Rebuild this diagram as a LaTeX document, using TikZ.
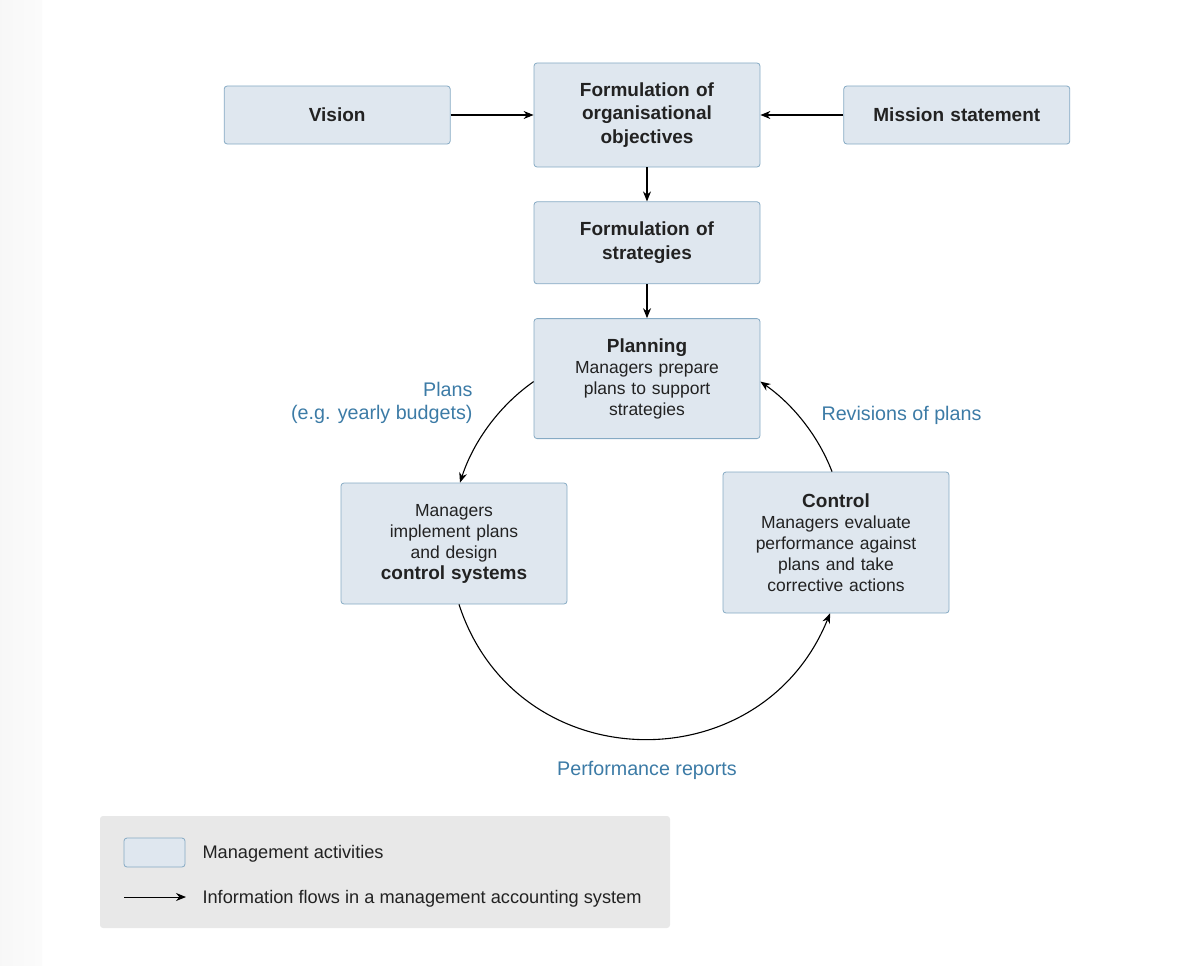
\documentclass[tikz,border=0pt]{standalone}
\usepackage{fontspec}
\setmainfont{Liberation Sans}
\usetikzlibrary{arrows.meta, positioning}
\definecolor{boxfill}{HTML}{DFE7EF}
\definecolor{boxline}{HTML}{86AAC4}
\definecolor{labelblue}{HTML}{3C7BA6}
\definecolor{legendbg}{HTML}{E8E8E8}
\definecolor{ink}{HTML}{222222}

\begin{document}
\begin{tikzpicture}[x=1pt, y=1pt,
    box/.style={draw=boxline, fill=boxfill, rounded corners=3pt, line width=0.8pt,
                minimum width=226pt, text width=215pt, align=center, text=ink,
                font=\fontsize{17.5}{21}\selectfont},
    title/.style={box, font=\fontsize{19}{23.5}\selectfont\bfseries},
    flow/.style={-{Stealth[length=10pt, width=8pt]}, line width=1.1pt},
    lbl/.style={text=labelblue, font=\fontsize{19.7}{23}\selectfont},
    leg/.style={anchor=west, text=ink, font=\fontsize{18.2}{20}\selectfont}
  ]
  \useasboundingbox (0,0) rectangle (1192,-966);
  \fill[left color=gray!6, right color=gray!3] (0,0) rectangle (42,-966);
  \newcommand{\hd}[1]{{\fontsize{19}{21}\selectfont\bfseries #1}}

  % top row
  \node[title, minimum height=104pt] (obj) at (647,-115)
    {Formulation of\\organisational\\objectives};
  \node[title, minimum height=58pt, left=83pt of obj] (vision) {Vision};
  \node[title, minimum height=58pt, right=83pt of obj] (mission) {Mission statement};
  \node[title, minimum height=82pt, below=34pt of obj] (strat) {Formulation of\\strategies};
  \node[box, minimum height=120pt, below=34pt of strat] (plan)
    {\hd{Planning}\\Managers prepare\\plans to support\\strategies};

  % cycle
  \node[box, minimum height=121pt] (impl) at (454,-543.5)
    {Managers\\implement plans\\and design\\\hd{control systems}};
  \node[box, minimum height=141pt] (ctrl) at (836,-542.5)
    {\hd{Control}\\Managers evaluate\\performance against\\plans and take\\corrective actions};

  \draw[flow] (vision) -- (obj);
  \draw[flow] (mission) -- (obj);
  \draw[flow] (obj) -- (strat);
  \draw[flow] (strat) -- (plan);
  \draw[flow] ([yshift=-3pt]plan.west) to[out=215, in=72, looseness=0.87] ([xshift=6pt]impl.north);
  \draw[flow] ([xshift=5pt]impl.south) to[out=288, in=248, looseness=1.27] ([xshift=-6pt]ctrl.south);
  \draw[flow] ([xshift=-4pt]ctrl.north) to[out=111, in=325, looseness=0.87] ([yshift=-3pt]plan.east);

  \node[lbl, align=right, anchor=east] (plans) at (476,-403) {Plans\\(e.g. yearly budgets)};
  \node[lbl, anchor=west] (revs) at (818,-415) {Revisions of plans};
  \node[lbl] (reports) at (647,-770) {Performance reports};

  % legend
  \fill[legendbg, rounded corners=3pt] (100,-816) rectangle (670,-928);
  \node[draw=boxline, fill=boxfill, rounded corners=3pt, line width=0.8pt,
        minimum width=61pt, minimum height=29pt] (lgbox) at (154.5,-852.5) {};
  \coordinate (lgfrom) at (124,-897);
  \coordinate (lgto) at (186,-897);
  \draw[flow, line width=1pt] (lgfrom) -- (lgto);
  \node[leg] (lgact) at (199,-854) {Management activities};
  \node[leg] (lgflow) at (199,-898.5) {Information flows in a management accounting system};
\end{tikzpicture}
\end{document}
